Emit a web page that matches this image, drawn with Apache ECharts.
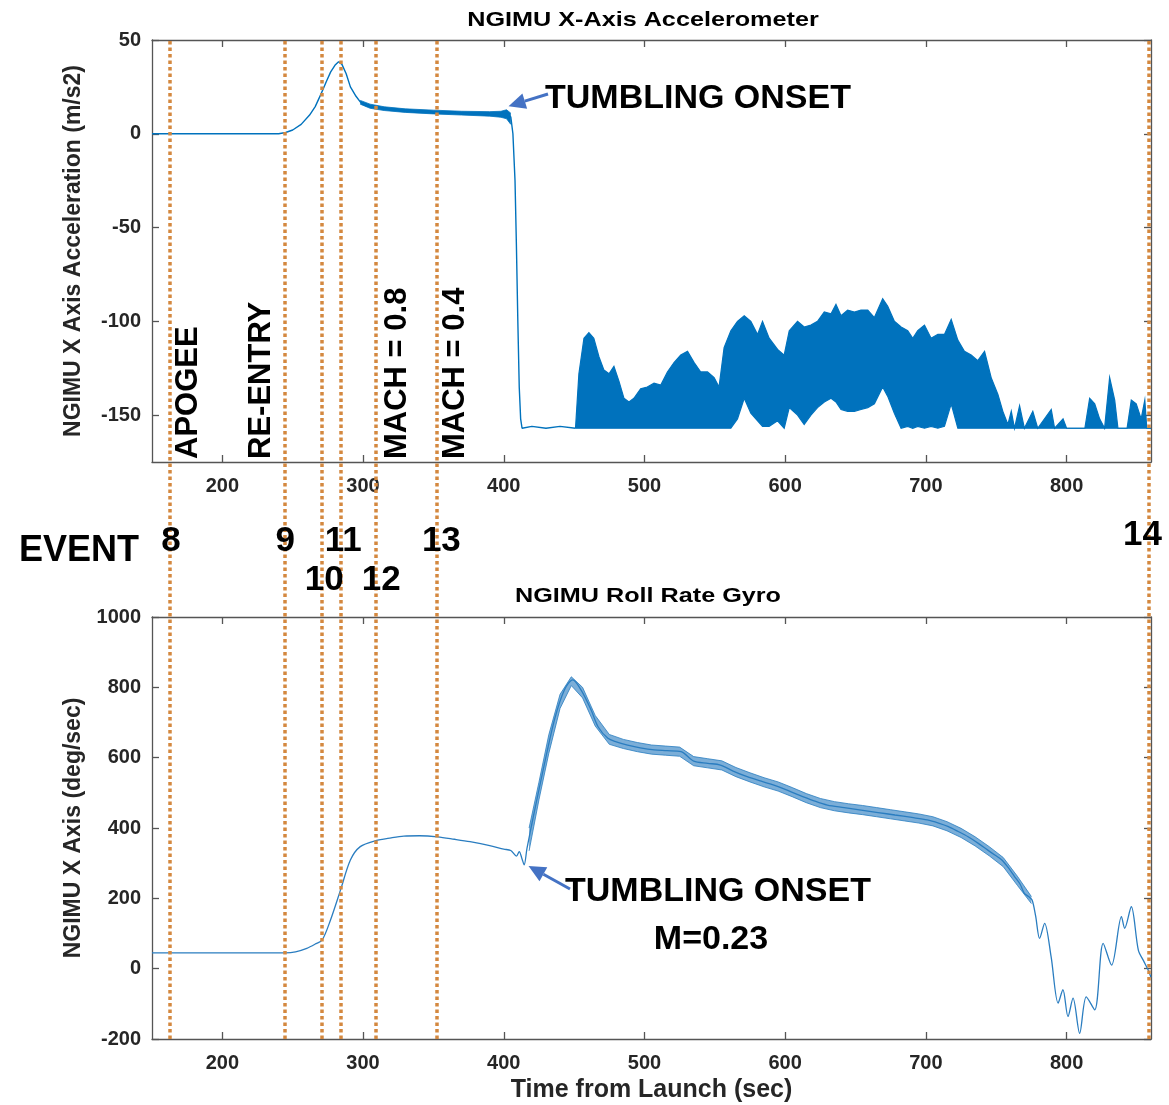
<!DOCTYPE html>
<html>
<head>
<meta charset="utf-8">
<script src="https://cdn.jsdelivr.net/npm/echarts@6/dist/echarts.min.js"></script>
<style>
  html, body { margin: 0; padding: 0; background: #fff; }
  #main { width: 1169px; height: 1105px; }
</style>
</head>
<body>
<div id="main"></div>
<script>
// ---- data ----
const xTicks = [200, 300, 400, 500, 600, 700, 800];
const accTicks = [-150, -100, -50, 0, 50];
const rollTicks = [-200, 0, 200, 400, 600, 800, 1000];

// x-axis accelerometer, smooth part up to the drop
const accTime  = [150, 240, 245, 250, 256, 262, 266, 270, 274, 277, 280, 282.6, 285, 288, 291, 295, 298, 302, 310, 320, 335, 352, 370, 390, 400, 403, 405, 406.5, 408, 409, 410, 411, 412, 413, 420, 430, 440, 451];
const accValue = [0, 0, 0.7, 2, 5, 10, 14.5, 21, 28, 33, 36.5, 38.4, 37, 32, 25, 20, 17, 15, 14, 13, 12.3, 11.7, 11, 10.5, 10.2, 10.5, 9, 0, -25, -60, -100, -135, -152, -157, -156, -157, -156, -157];

// noisy plateau before tumbling (band edges)
const accNoiseTime = [298, 305, 315, 330, 350, 370, 390, 398, 402, 405];
const accNoiseLow  = [15.8, 13.6, 12.4, 11.4, 10.6, 10.0, 9.4, 8.8, 8.0, 5];
const accNoiseHigh = [17.8, 15.8, 14.4, 13.3, 12.6, 12.0, 11.8, 12.0, 12.8, 11];

// tumbling oscillation envelope
const accBandTime = [451, 453.4, 457, 460.5, 464, 467.7, 471.2, 474.8, 478.3, 481.9, 485.4, 489, 492.5, 497.3, 502, 506.8, 511.6, 516.3, 521, 525.8, 530.6, 535.3, 540, 544.8, 549.5, 553, 556.6, 561.4, 566.1, 570.9, 575.6, 580.4, 583.9, 588.6, 594.6, 599.3, 602.9, 608.8, 613.5, 618.3, 623, 627.8, 632.6, 636.1, 639.7, 644.4, 649.2, 653.9, 658.7, 663.4, 669.3, 672.9, 677.6, 682.4, 687.1, 690.7, 694.2, 699, 703.7, 708.5, 713.2, 718, 722.7, 727.4, 732.2, 736.9, 741.7, 746.4, 751.2, 754.7, 758.3, 760.7, 763, 766.6, 770, 776, 779.5, 789.1, 791.5, 797.5, 800, 813, 816.4, 820, 823.5, 827, 830.6, 834.2, 836.5, 843, 846, 849.5, 853, 855.6, 857, 860];
const accBandHigh = [-157, -128, -109, -106, -109, -119, -126, -128, -124, -132, -141, -143, -141, -136, -135, -133, -134, -127, -122, -118, -116, -122, -127, -127, -130, -135, -114, -105, -100, -97, -100, -107, -100, -109, -115, -118, -105, -100, -103, -102, -100, -95, -96, -91, -97, -94, -95, -94, -94, -98, -88, -92, -100, -103, -105, -109, -105, -102, -109, -107, -107, -99, -110, -116, -118, -121, -116, -130, -139, -148, -155, -148, -157, -145, -157, -148, -157, -147, -157, -152, -157, -157, -141, -144, -152, -157, -130, -142, -157, -157, -142, -144, -152, -142, -157, -157];
const accBandLow  = [-157, -157, -157, -157, -157, -157, -157, -157, -157, -157, -157, -157, -157, -157, -157, -157, -157, -157, -157, -157, -157, -157, -157, -157, -157, -157, -157, -157, -152, -141, -149, -153, -156, -156, -153, -157, -146, -150, -155, -150, -146, -143, -141, -143, -147, -148, -148, -147, -146, -144, -135, -140, -149, -157, -156, -157, -156, -157, -156, -157, -156, -144, -157, -157, -157, -157, -157, -157, -157, -157, -157, -157, -157, -157, -157, -157, -157, -157, -157, -157, -157, -157, -157, -157, -157, -157, -157, -157, -157, -157, -157, -157, -157, -157, -157, -157];

// roll rate gyro, mean curve
const rollTime  = [150, 245, 252, 260, 266, 271, 277, 284, 291, 298, 309, 320, 329, 340, 353, 365, 376, 390, 400, 405, 409, 411, 413, 414.5, 416.5, 421, 428, 436, 443, 449, 455, 462, 467, 474, 480, 488, 497, 507, 516, 526, 535, 545, 554, 563, 573, 583, 592, 600, 609, 620, 630, 642, 654, 666, 678, 690, 701, 709, 716, 723, 730, 737, 744, 749, 754, 759, 763, 767, 770, 773, 775.5, 778, 780.8, 784.4, 789, 794, 797.4, 801, 804.6, 809.3, 814, 820, 826, 832, 839, 841.3, 846, 851, 855, 858, 860];
const rollValue = [45, 45, 48, 58, 70, 82, 140, 224, 309, 347, 364, 372, 377, 378, 375, 368, 361, 350, 340, 336, 320, 333, 312, 295, 342, 432, 565, 707, 792, 821, 792, 736, 688, 655, 645, 636, 628, 622, 620, 617, 590, 584, 579, 562, 546, 533, 522, 510, 495, 478, 465, 458, 451, 444, 437, 430, 423, 414, 404, 390, 375, 357, 337, 323, 309, 285, 262, 240, 214, 205, 195, 150, 86, 129, 34, -98, -60, -136, -84, -184, -80, -117, 72, 10, 148, 115, 176, 53, 20, -4, -25];

// roll rate wobble envelope
const rollBandTime = [418, 425, 432, 440, 448, 456, 465, 475, 485, 495, 505, 515, 525, 535, 545, 555, 565, 575, 585, 595, 605, 615, 625, 635, 645, 655, 665, 675, 685, 695, 705, 715, 725, 735, 745, 755, 765, 775];
const rollBandLow  = [335, 480, 612, 740, 805, 770, 690, 638, 626, 617, 610, 607, 604, 577, 571, 565, 546, 531, 517, 505, 489, 472, 458, 449, 443, 438, 432, 426, 420, 414, 406, 392, 373, 349, 321, 290, 237, 185];
const rollBandHigh = [400, 530, 665, 780, 830, 800, 720, 666, 652, 643, 636, 633, 630, 603, 597, 591, 572, 557, 543, 531, 515, 498, 484, 475, 469, 464, 458, 452, 446, 440, 432, 418, 399, 375, 347, 316, 263, 205];

// flight events
const eventTimes = [162.8, 244.7, 270.3, 283.8, 308.7, 352.1, 858.2];
const eventIds   = ['8', '9', '10', '11', '12', '13', '14'];
const phaseNames = ['APOGEE', 'RE-ENTRY', 'MACH = 0.8', 'MACH = 0.4'];
const phaseEvent = [0, 1, 4, 5];

// ---- chart ----
const chart = echarts.init(document.getElementById('main'));
const BLUE = '#0072BD';
const ROLL = '#2A7DC0';
const EVENT_COLOR = '#D4883F';
const INK = '#262626';
const FONT = '"Liberation Sans", Arial, sans-serif';

const pairs = (xs, ys) => xs.map((x, i) => [x, ys[i]]);

const boxLine = { show: true, onZero: false, lineStyle: { color: '#555', width: 1.3 } };
const inTick = (vals) => ({ show: true, inside: true, length: 7, customValues: vals, lineStyle: { color: '#555', width: 1.3 } });
const tickLabel = (vals, margin) => ({
  customValues: vals, margin: margin, formatter: (v) => String(v),
  color: INK, fontSize: 20, fontWeight: 'bold', fontFamily: FONT
});

function xAxisPair(grid, withName) {
  return [
    {
      type: 'value', gridIndex: grid, position: 'bottom', min: 150, max: 860,
      axisLine: boxLine, axisTick: inTick(xTicks), axisLabel: tickLabel(xTicks, 14),
      splitLine: { show: false },
      name: withName ? 'Time from Launch (sec)' : '',
      nameLocation: 'middle', nameGap: 39,
      nameTextStyle: { color: INK, fontSize: 25, fontWeight: 'bold', fontFamily: FONT }
    },
    {
      type: 'value', gridIndex: grid, position: 'top', min: 150, max: 860,
      axisLine: boxLine, axisTick: inTick(xTicks), axisLabel: { show: false },
      splitLine: { show: false }
    }
  ];
}

function yAxisPair(grid, min, max, ticks, name, gap) {
  return [
    {
      type: 'value', gridIndex: grid, position: 'left', min: min, max: max,
      axisLine: boxLine, axisTick: inTick(ticks), axisLabel: tickLabel(ticks, 11),
      splitLine: { show: false },
      name: name, nameLocation: 'middle', nameGap: gap,
      nameTextStyle: { color: INK, fontSize: 23, fontWeight: 'bold', fontFamily: FONT }
    },
    {
      type: 'value', gridIndex: grid, position: 'right', min: min, max: max,
      axisLine: boxLine, axisTick: inTick(ticks), axisLabel: { show: false },
      splitLine: { show: false }
    }
  ];
}

// filled band between two edges, drawn as one polygon through the axes
function band(xi, yi, xs, lo, hi, color, fillOpacity, edgeWidth) {
  return {
    type: 'custom', xAxisIndex: xi, yAxisIndex: yi, silent: true, z: 3,
    data: [[xs[0], lo[0]]],
    renderItem: (params, api) => {
      const top = xs.map((x, i) => api.coord([x, hi[i]]));
      const bottom = xs.map((x, i) => api.coord([x, lo[i]]));
      return {
        type: 'group',
        children: [
          { type: 'polygon', shape: { points: top.concat(bottom.slice().reverse()) },
            style: { fill: color, opacity: fillOpacity } },
          { type: 'polyline', shape: { points: top }, style: { stroke: color, lineWidth: edgeWidth, fill: null } },
          { type: 'polyline', shape: { points: bottom }, style: { stroke: color, lineWidth: edgeWidth, fill: null } }
        ]
      };
    }
  };
}

const option = {
  animation: false,
  backgroundColor: '#fff',
  grid: [
    { left: 152, top: 40, width: 999, height: 422 },
    { left: 152, top: 617, width: 999, height: 422 },
    { left: 152, top: 40, width: 999, height: 999 }
  ],
  xAxis: [
    ...xAxisPair(0, false),
    ...xAxisPair(1, true),
    { type: 'value', gridIndex: 2, min: 150, max: 860, show: false }
  ],
  yAxis: [
    ...yAxisPair(0, -175, 50, accTicks, 'NGIMU X Axis Acceleration (m/s2)', 67),
    ...yAxisPair(1, -200, 1000, rollTicks, 'NGIMU X Axis (deg/sec)', 67),
    { type: 'value', gridIndex: 2, min: 0, max: 1, show: false }
  ],
  series: [
    {
      type: 'line', name: 'acc', xAxisIndex: 0, yAxisIndex: 0,
      data: pairs(accTime, accValue), showSymbol: false, symbol: 'none',
      lineStyle: { color: BLUE, width: 1.4 }, z: 3
    },
    band(0, 0, accNoiseTime, accNoiseLow, accNoiseHigh, BLUE, 1, 0.8),
    band(0, 0, accBandTime, accBandLow, accBandHigh, BLUE, 1, 1.2),
    {
      type: 'line', name: 'roll', xAxisIndex: 2, yAxisIndex: 2,
      data: pairs(rollTime, rollValue), showSymbol: false, symbol: 'none', smooth: 0.3,
      lineStyle: { color: ROLL, width: 1.3 }, z: 3
    },
    band(2, 2, rollBandTime, rollBandLow, rollBandHigh, ROLL, 0.62, 0.8),
    {
      type: 'line', name: 'events', xAxisIndex: 4, yAxisIndex: 4, data: [], z: 6,
      markLine: {
        silent: true, symbol: ['none', 'none'], label: { show: false },
        lineStyle: { color: EVENT_COLOR, width: 3.5, type: [3.5, 3], opacity: 1 },
        data: eventTimes.map(t => ({ xAxis: t }))
      }
    }
  ]
};

chart.setOption(option);

// ---- annotations ----
const evX = (t) => chart.convertToPixel({ xAxisIndex: 4 }, t);

function text(str, x, y, size, align, extra) {
  return Object.assign({
    type: 'text', x: x, y: y, z: 20,
    style: {
      text: str, font: 'bold ' + size + 'px ' + FONT, fill: '#000',
      align: align, verticalAlign: 'middle', textAlign: align, textVerticalAlign: 'middle'
    }
  }, extra || {});
}

function arrow(tail, tip) {
  const dx = tip[0] - tail[0], dy = tip[1] - tail[1];
  const len = Math.sqrt(dx * dx + dy * dy);
  const ux = dx / len, uy = dy / len;
  const head = 17, half = 8;
  const bx = tip[0] - ux * head, by = tip[1] - uy * head;
  return [
    { type: 'line', z: 19, shape: { x1: tail[0], y1: tail[1], x2: bx, y2: by },
      style: { stroke: '#4472C4', lineWidth: 3 } },
    { type: 'polygon', z: 19,
      shape: { points: [tip, [bx - uy * half, by + ux * half], [bx + uy * half, by - ux * half]] },
      style: { fill: '#4472C4' } }
  ];
}

// event number rows: [row y, horizontal nudge]
const idPlace = [[541, 1], [541, 0], [580, 3], [541, 3], [580, 6], [541, 5], [535, -6]];
const phaseNudge = [18, -24, 22, 19];

const g = [];
g.push(text('NGIMU X-Axis Accelerometer', 643, 20, 21, 'center', { scaleX: 1.2 }));
g.push(text('NGIMU Roll Rate Gyro', 648, 596, 21, 'center', { scaleX: 1.2 }));
g.push(text('EVENT', 19, 551, 36, 'left'));
eventIds.forEach((id, i) => {
  g.push(text(id, evX(eventTimes[i]) + idPlace[i][1], idPlace[i][0], 35, 'center'));
});
phaseNames.forEach((name, i) => {
  const px = evX(eventTimes[phaseEvent[i]]) + phaseNudge[i];
  g.push(text(name, px, 459, 31, 'left', { rotation: Math.PI / 2 }));
});
g.push(text('TUMBLING ONSET', 545, 99, 34, 'left'));
g.push(...arrow([548, 94], chart.convertToPixel({ gridIndex: 0 }, [403.4, 14.7])));
g.push(text('TUMBLING ONSET', 565, 892, 34, 'left'));
g.push(text('M=0.23', 711, 940, 34, 'center'));
g.push(...arrow([570, 889], chart.convertToPixel({ gridIndex: 1 }, [417.6, 292])));

chart.setOption({ graphic: { elements: g } });
</script>
</body>
</html>
